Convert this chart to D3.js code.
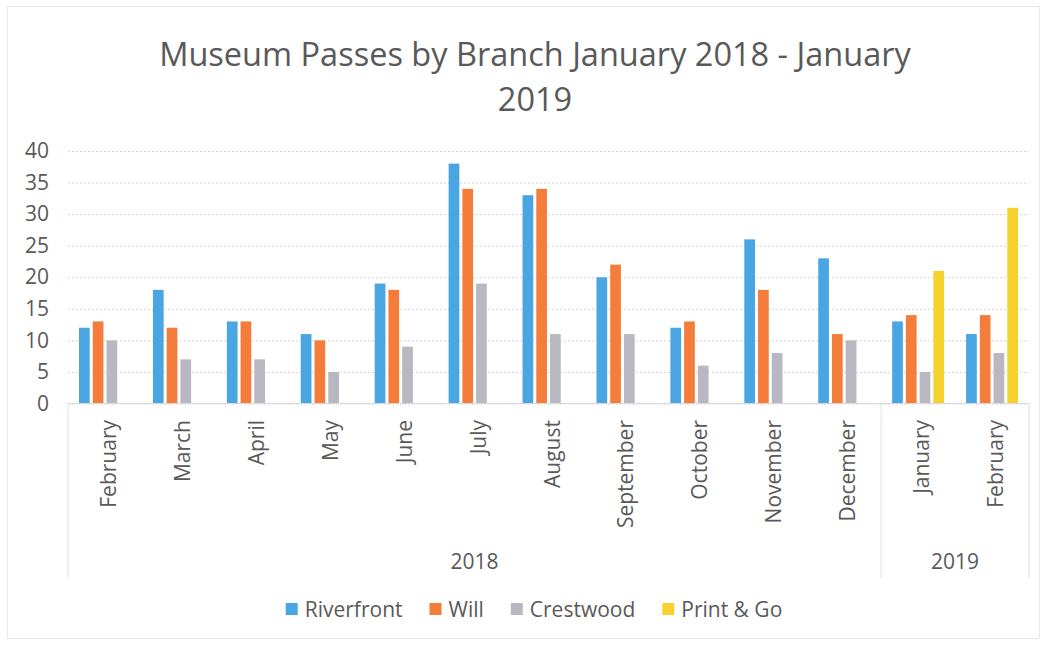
<!DOCTYPE html>
<html>
<head>
<meta charset="utf-8">
<script src="https://cdn.jsdelivr.net/npm/d3@7"></script>
<style>
  html, body { margin: 0; padding: 0; background: #ffffff; }
  svg { display: block; }
  text { font-family: "Open Sans", Lato, sans-serif; fill: #595959; }
</style>
</head>
<body>
<svg id="chart" width="1045" height="645"></svg>
<script>
// Monthly pass counts per branch
const months = ["February", "March", "April", "May", "June", "July", "August",
                "September", "October", "November", "December", "January", "February"];
const years = ["2018", "2018", "2018", "2018", "2018", "2018", "2018",
               "2018", "2018", "2018", "2018", "2019", "2019"];
const series = ["Riverfront", "Will", "Crestwood", "Print & Go"];
const riverfront = [12, 18, 13, 11, 19, 38, 33, 20, 12, 26, 23, 13, 11];
const will       = [13, 12, 13, 10, 18, 34, 34, 22, 13, 18, 11, 14, 14];
const crestwood  = [10,  7,  7,  5,  9, 19, 11, 11,  6,  8, 10,  5,  8];
const printGo    = [null, null, null, null, null, null, null, null, null, null, null, 21, 31];
const yTicks = [0, 5, 10, 15, 20, 25, 30, 35, 40];
const colors = ["#4aa6e2", "#f47d3b", "#b9b8c2", "#f7d22e"];

const values = [riverfront, will, crestwood, printGo];

const svg = d3.select("#chart");
const plot = { left: 68, right: 1029, top: 151, bottom: 403.5 };
const FONT = "'Open Sans', Lato, sans-serif";

// chart frame
svg.append("rect")
  .attr("x", 7.5).attr("y", 6.5).attr("width", 1032).attr("height", 632)
  .attr("fill", "none").attr("stroke", "#e8e8e8").attr("stroke-width", 1);

// title
const title = svg.append("text")
  .attr("text-anchor", "middle")
  .style("font-size", "32.5px");
title.append("tspan").attr("x", 535).attr("y", 66).text("Museum Passes by Branch January 2018 - January");
title.append("tspan").attr("x", 535).attr("y", 111).text("2019");

// scales
const idx = d3.range(months.length);
const x0 = d3.scaleBand().domain(idx).range([plot.left, plot.right]).paddingInner(0).paddingOuter(0);
const x1 = d3.scaleBand().domain(series).range([11, x0.bandwidth() - 11]).paddingInner(0.22).paddingOuter(0);
const y = d3.scaleLinear().domain([0, 40]).range([plot.bottom, plot.top]);

// gridlines
const grid = svg.append("g")
  .attr("transform", `translate(${plot.left},0)`)
  .call(d3.axisLeft(y).tickValues(yTicks).tickSize(-(plot.right - plot.left)).tickFormat(""));
grid.select(".domain").remove();
grid.selectAll("line")
  .attr("stroke", "#d4d4d4")
  .attr("stroke-dasharray", "2,2")
  .attr("stroke-width", 1);

// y axis labels
const yAxis = svg.append("g")
  .attr("transform", `translate(${plot.left},0)`)
  .call(d3.axisLeft(y).tickValues(yTicks).tickSize(0).tickPadding(19));
yAxis.select(".domain").remove();
yAxis.selectAll("text")
  .style("font-size", "21px")
  .style("font-family", FONT)
  .attr("fill", "#595959");

// bars
const groups = svg.append("g").selectAll("g")
  .data(idx)
  .join("g")
  .attr("transform", i => `translate(${x0(i)},0)`);

groups.selectAll("rect")
  .data(i => series.map((s, k) => ({ s, k, v: values[k][i] })).filter(d => d.v != null))
  .join("rect")
  .attr("x", d => x1(d.s))
  .attr("width", x1.bandwidth())
  .attr("y", d => y(d.v))
  .attr("height", d => y(0) - y(d.v))
  .attr("fill", d => colors[d.k]);

// category axis line
svg.append("line")
  .attr("x1", plot.left).attr("x2", plot.right)
  .attr("y1", plot.bottom).attr("y2", plot.bottom)
  .attr("stroke", "#d9d9d9");

// month labels
svg.append("g").selectAll("text")
  .data(idx)
  .join("text")
  .attr("transform", i => `translate(${x0(i) + x0.bandwidth() / 2 + 3},420) rotate(-90)`)
  .attr("text-anchor", "end")
  .attr("dominant-baseline", "central")
  .style("font-size", "21px")
  .text(i => months[i]);

// year groups and separators
const yearNames = Array.from(new Set(years));
const yearSpans = yearNames.map(yr => {
  const members = idx.filter(i => years[i] === yr);
  return {
    yr,
    x1: x0(members[0]),
    x2: x0(members[members.length - 1]) + x0.bandwidth()
  };
});
const sepX = Array.from(new Set(yearSpans.flatMap(d => [d.x1, d.x2])));
svg.append("g").selectAll("line")
  .data(sepX)
  .join("line")
  .attr("x1", d => d).attr("x2", d => d)
  .attr("y1", plot.bottom).attr("y2", 578)
  .attr("stroke", "#e0e0e0");

svg.append("g").selectAll("text")
  .data(yearSpans)
  .join("text")
  .attr("x", d => (d.x1 + d.x2) / 2)
  .attr("y", 561)
  .attr("text-anchor", "middle")
  .attr("dominant-baseline", "central")
  .style("font-size", "21px")
  .text(d => d.yr);

// legend
const legend = svg.append("g");
const items = legend.selectAll("g")
  .data(series)
  .join("g");
items.append("rect")
  .attr("width", 12).attr("height", 12)
  .attr("y", -6)
  .attr("fill", (d, k) => colors[k]);
items.append("text")
  .attr("x", 19)
  .attr("dominant-baseline", "central")
  .style("font-size", "21px")
  .text(d => d);
let cursor = 0;
items.each(function () {
  const w = 19 + d3.select(this).select("text").node().getComputedTextLength();
  d3.select(this).attr("transform", `translate(${cursor},0)`);
  cursor += w + 27;
});
const legendWidth = cursor - 27;
legend.attr("transform", `translate(${534 - legendWidth / 2},609)`);
</script>
</body>
</html>
